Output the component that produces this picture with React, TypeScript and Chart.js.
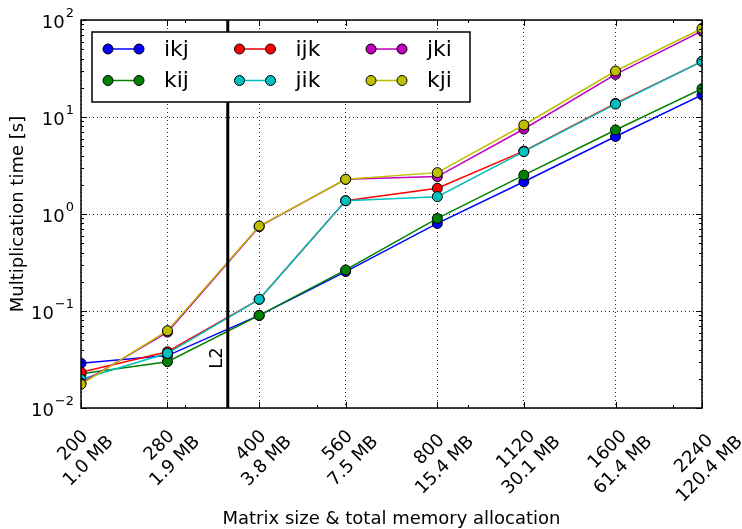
import React, { useEffect, useRef } from "react";
import { Chart, registerables } from "chart.js";

Chart.register(...registerables);

// ---------- data ----------
const sizes = [200, 280, 400, 560, 800, 1120, 1600, 2240];
const memLabels = ["1.0 MB", "1.9 MB", "3.8 MB", "7.5 MB", "15.4 MB", "30.1 MB", "61.4 MB", "120.4 MB"];
const seriesNames = ["ikj", "kij", "ijk", "jik", "jki", "kji"];
const seriesColors = ["#0000ff", "#008000", "#ff0000", "#00bfbf", "#bf00bf", "#bfbf00"];
const ikj = [0.0289, 0.0347, 0.09, 0.255, 0.8, 2.15, 6.3, 16.9];
const kij = [0.0225, 0.03, 0.09, 0.265, 0.9, 2.52, 7.35, 19.6];
const ijk = [0.0233, 0.038, 0.132, 1.37, 1.84, 4.45, 13.8, 37.5];
const jik = [0.0198, 0.0366, 0.132, 1.37, 1.51, 4.39, 13.6, 37.5];
const jki = [0.018, 0.0606, 0.74, 2.28, 2.43, 7.52, 27.5, 77];
const kji = [0.01755, 0.0627, 0.752, 2.28, 2.67, 8.27, 29.8, 82];
const seriesValues = [ikj, kij, ijk, jik, jki, kji];

const yMajor = [0.01, 0.1, 1, 10, 100];
const yExponents = ["-2", "-1", "0", "1", "2"];
const yMinorSubs = [2, 3, 4, 5, 6, 7, 8, 9];
const xMinor = [300, 500, 900, 2000];
const l2Size = 354;
const l2Label = "L2";
const xTitle = "Matrix size & total memory allocation";
const yTitle = "Multiplication time [s]";

const FONT = '"DejaVu Sans", sans-serif';

const decor = {
  id: "decor",
  afterDatasetsDraw(chart: any) {
    const { ctx, chartArea: a } = chart;
    const x = chart.scales.x;
    const lx = x.getPixelForValue(l2Size);
    ctx.save();
    ctx.strokeStyle = "#000";
    ctx.lineWidth = 3;
    ctx.beginPath();
    ctx.moveTo(lx, a.top);
    ctx.lineTo(lx, a.bottom);
    ctx.stroke();
    ctx.translate(lx - 10, a.bottom - 50);
    ctx.rotate(-Math.PI / 2);
    ctx.font = `18px ${FONT}`;
    ctx.fillStyle = "#000";
    ctx.textAlign = "center";
    ctx.textBaseline = "middle";
    ctx.fillText(l2Label, 0, 0);
    ctx.restore();
  },
  afterDraw(chart: any) {
    const { ctx, chartArea: a } = chart;
    const x = chart.scales.x;
    const y = chart.scales.y;
    ctx.save();
    ctx.strokeStyle = "#000";
    ctx.fillStyle = "#000";
    // ticks
    ctx.lineWidth = 1;
    ctx.beginPath();
    const MAJ = 6;
    const MIN = 3;
    sizes.forEach((v) => {
      const px = Math.round(x.getPixelForValue(v)) + 0.5;
      ctx.moveTo(px, a.bottom);
      ctx.lineTo(px, a.bottom - MAJ);
      ctx.moveTo(px, a.top);
      ctx.lineTo(px, a.top + MAJ);
    });
    xMinor.forEach((v) => {
      const px = Math.round(x.getPixelForValue(v)) + 0.5;
      ctx.moveTo(px, a.bottom);
      ctx.lineTo(px, a.bottom - MIN);
      ctx.moveTo(px, a.top);
      ctx.lineTo(px, a.top + MIN);
    });
    yMajor.forEach((v, i) => {
      const py = Math.round(y.getPixelForValue(v)) + 0.5;
      ctx.moveTo(a.left, py);
      ctx.lineTo(a.left + MAJ, py);
      ctx.moveTo(a.right, py);
      ctx.lineTo(a.right - MAJ, py);
      if (i < yMajor.length - 1) {
        yMinorSubs.forEach((s) => {
          const pm = Math.round(y.getPixelForValue(v * s)) + 0.5;
          ctx.moveTo(a.left, pm);
          ctx.lineTo(a.left + MIN, pm);
          ctx.moveTo(a.right, pm);
          ctx.lineTo(a.right - MIN, pm);
        });
      }
    });
    ctx.stroke();
    // frame
    ctx.lineWidth = 1.5;
    ctx.strokeRect(a.left, a.top, a.right - a.left, a.bottom - a.top);

    // y tick labels
    yMajor.forEach((v, i) => {
      const py = y.getPixelForValue(v);
      ctx.font = `18px ${FONT}`;
      const w10 = ctx.measureText("10").width;
      ctx.font = `13px ${FONT}`;
      const exp = yExponents[i].replace("-", "\u2212");
      const we = ctx.measureText(exp).width;
      const xe = a.left - 7;
      ctx.textAlign = "left";
      ctx.textBaseline = "middle";
      ctx.font = `18px ${FONT}`;
      ctx.fillText("10", xe - we - w10 - 1, py + 3);
      ctx.font = `13px ${FONT}`;
      ctx.fillText(exp, xe - we, py - 6);
    });

    // x tick labels (rotated 45, centered)
    ctx.font = `18px ${FONT}`;
    const lh = 22;
    sizes.forEach((v, i) => {
      const lines = [String(v), memLabels[i]];
      const W = Math.max(...lines.map((l) => ctx.measureText(l).width));
      const H = lines.length * lh;
      const half = (W + H) / (2 * Math.SQRT2);
      const cx = x.getPixelForValue(v);
      const cy = a.bottom + 8 + half;
      ctx.save();
      ctx.translate(cx, cy);
      ctx.rotate(-Math.PI / 4);
      ctx.textAlign = "center";
      ctx.textBaseline = "middle";
      lines.forEach((l, k) => ctx.fillText(l, 0, -H / 2 + lh * (k + 0.5)));
      ctx.restore();
    });

    // axis titles
    ctx.font = `18px ${FONT}`;
    ctx.textAlign = "center";
    ctx.textBaseline = "middle";
    ctx.fillText(xTitle, (a.left + a.right) / 2, 519);
    ctx.save();
    ctx.translate(18, (a.top + a.bottom) / 2);
    ctx.rotate(-Math.PI / 2);
    ctx.fillText(yTitle, 0, 0);
    ctx.restore();

    // legend
    const lx0 = 92, ly0 = 32, lw = 378, lhgt = 70;
    ctx.fillStyle = "#fff";
    ctx.fillRect(lx0, ly0, lw, lhgt);
    ctx.strokeStyle = "#000";
    ctx.lineWidth = 1.5;
    ctx.strokeRect(lx0, ly0, lw, lhgt);
    seriesNames.forEach((name, idx) => {
      const c = Math.floor(idx / 2);
      const r = idx % 2;
      const x0 = 108 + c * 131.5;
      const x1 = x0 + 31;
      const yy = 49 + r * 31.5;
      ctx.strokeStyle = seriesColors[idx];
      ctx.lineWidth = 1.5;
      ctx.beginPath();
      ctx.moveTo(x0, yy);
      ctx.lineTo(x1, yy);
      ctx.stroke();
      [x0, x1].forEach((mx) => {
        ctx.beginPath();
        ctx.arc(mx, yy, 5, 0, Math.PI * 2);
        ctx.fillStyle = seriesColors[idx];
        ctx.fill();
        ctx.strokeStyle = "#000";
        ctx.lineWidth = 1;
        ctx.stroke();
      });
      ctx.fillStyle = "#000";
      ctx.font = `22px ${FONT}`;
      ctx.textAlign = "left";
      ctx.textBaseline = "middle";
      ctx.fillText(name, x0 + 56, yy + 1);
    });
    ctx.restore();
  },
};

export default function App() {
  const ref = useRef<HTMLCanvasElement>(null);
  useEffect(() => {
    if (!ref.current) return;
    const chart = new Chart(ref.current, {
      type: "line",
      data: {
        datasets: seriesNames.map((name, i) => ({
          label: name,
          data: seriesValues[i].map((v, k) => ({ x: sizes[k], y: v })),
          borderColor: seriesColors[i],
          backgroundColor: seriesColors[i],
          pointBackgroundColor: seriesColors[i],
          pointBorderColor: "#000",
          pointBorderWidth: 1,
          pointRadius: 5,
          borderWidth: 1.5,
          tension: 0,
          clip: 0,
          order: seriesNames.length - i,
        })),
      },
      options: {
        animation: false,
        responsive: false,
        layout: { padding: { left: 81, right: 40, top: 20, bottom: 121 } },
        plugins: { legend: { display: false }, tooltip: { enabled: false } },
        scales: {
          x: {
            type: "logarithmic",
            min: 200,
            max: 2240,
            afterBuildTicks: (s: any) => {
              s.ticks = sizes.map((v) => ({ value: v }));
            },
            ticks: { display: false },
            grid: { color: "rgba(0,0,0,0.85)", lineWidth: 1, drawTicks: false },
            border: { display: false, dash: [1, 3] },
          },
          y: {
            type: "logarithmic",
            min: 0.01,
            max: 100,
            afterBuildTicks: (s: any) => {
              s.ticks = yMajor.map((v) => ({ value: v }));
            },
            ticks: { display: false },
            grid: { color: "rgba(0,0,0,0.85)", lineWidth: 1, drawTicks: false },
            border: { display: false, dash: [1, 3] },
          },
        },
      },
      plugins: [decor],
    } as any);
    return () => chart.destroy();
  }, []);
  return (
    <div style={{ position: "fixed", left: 0, top: 0, width: 742, height: 529, background: "#fff" }}>
      <canvas ref={ref} width={742} height={529} style={{ display: "block" }} />
    </div>
  );
}
